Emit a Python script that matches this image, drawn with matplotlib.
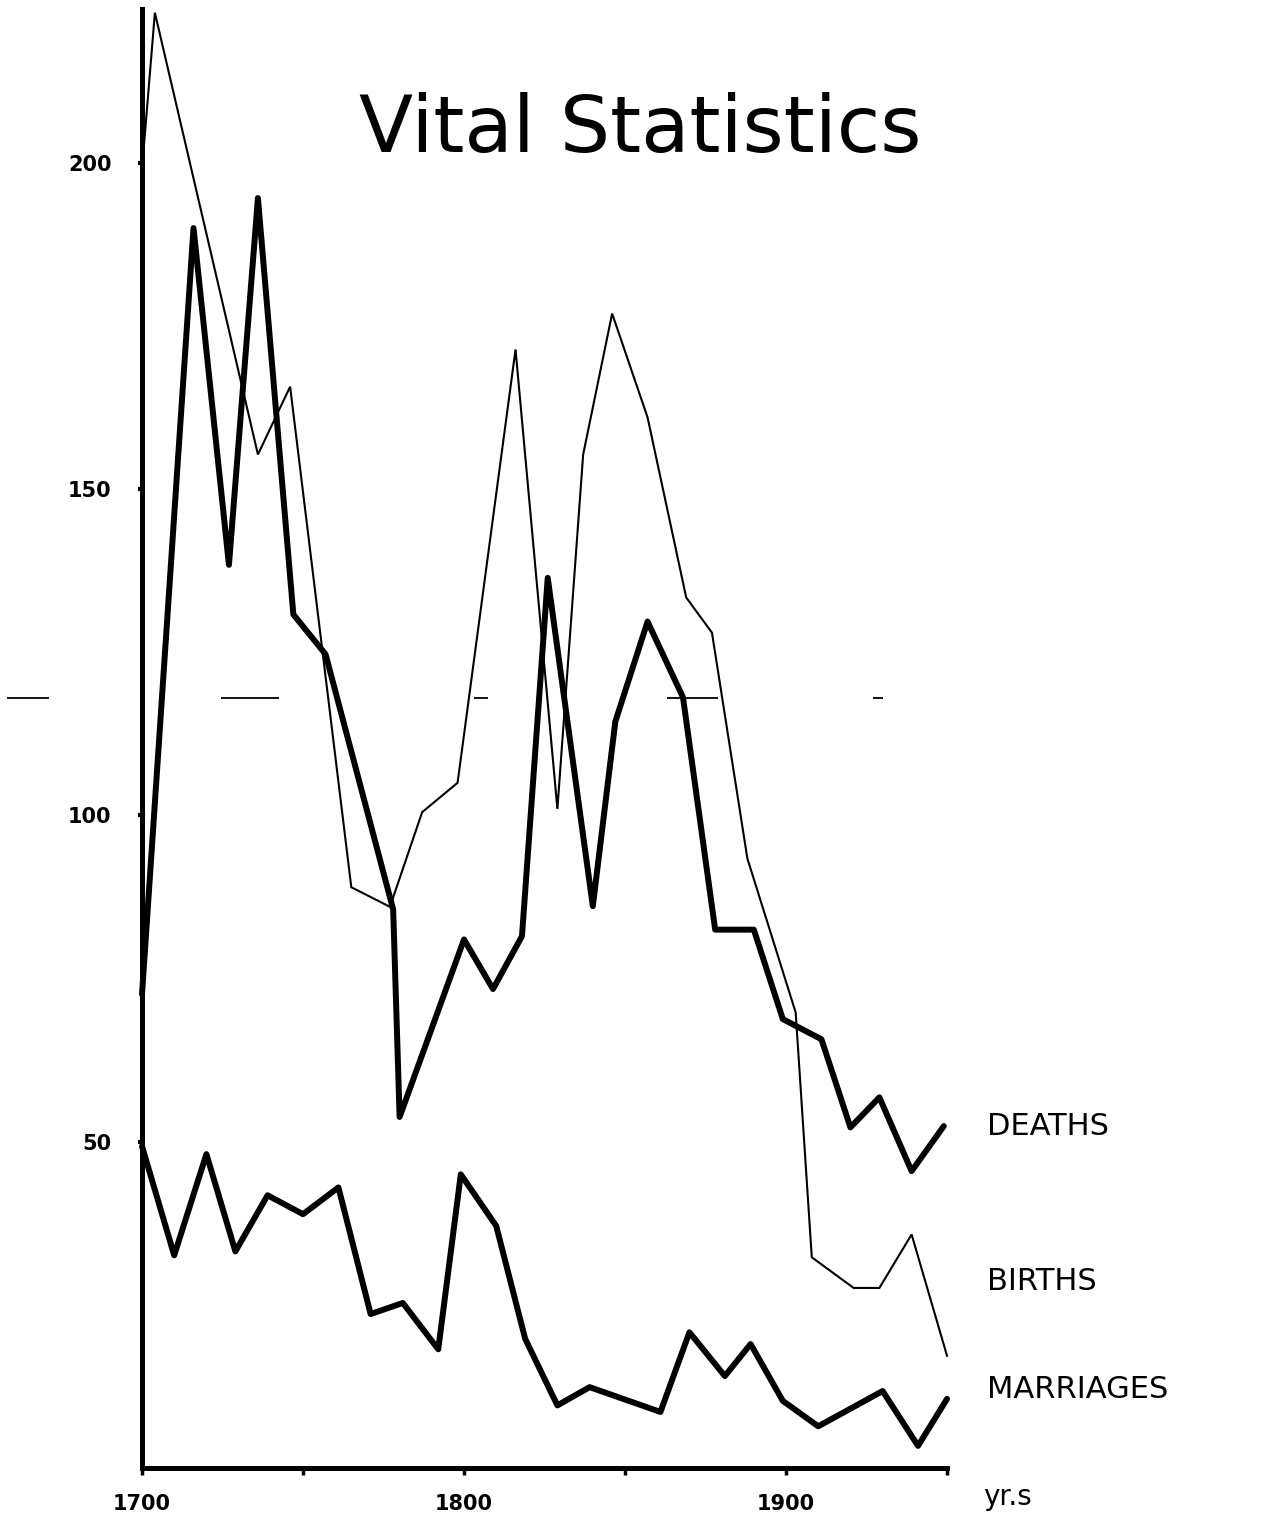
import matplotlib
matplotlib.use('Agg')
import matplotlib.pyplot as plt

# values
births_years = [1700, 1704, 1736, 1746, 1765, 1777, 1787, 1798, 1816, 1829, 1837, 1846,
                1857, 1869, 1877, 1888, 1903, 1908, 1921, 1929, 1939, 1950]
births = [199, 223, 155.3, 165.7, 89, 86, 100.5, 105, 171.4, 101, 155.3, 176.9,
          161, 133.4, 128, 93.4, 69.8, 32.3, 27.6, 27.6, 35.8, 17.2]

deaths_years = [1700, 1716, 1727, 1736, 1747, 1757, 1778, 1780, 1800, 1809, 1818, 1826,
                1840, 1847, 1857, 1868, 1878, 1890, 1899, 1911, 1920, 1929, 1939, 1949]
deaths = [72.6, 190, 138.4, 194.6, 130.8, 124.7, 85.6, 53.8, 81, 73.4, 81.5, 136.4,
          86.1, 114.4, 129.7, 118.1, 82.5, 82.5, 68.8, 65.7, 52.2, 56.8, 45.5, 52.4]

marriages_years = [1700, 1710, 1720, 1729, 1739, 1750, 1761, 1771, 1781, 1792, 1799, 1810,
                   1819, 1829, 1839, 1861, 1870, 1881, 1889, 1899, 1910, 1930, 1941, 1950]
marriages = [49.3, 32.6, 48.1, 33.2, 41.8, 38.9, 43, 23.6, 25.3, 18.2, 45, 37.1,
             19.8, 9.6, 12.4, 8.6, 20.8, 14.1, 19, 10.3, 6.4, 11.8, 3.4, 10.6]

# broken guide line that shows faintly across the scan
ref_level = 118
ref_starts = [1658, 1724.5, 1803, 1863, 1927]
ref_ends = [1671, 1742.5, 1807.5, 1879, 1930]

y_ticks = [50, 100, 150, 200]
x_ticks = [1700, 1750, 1800, 1850, 1900, 1950]
x_labels = ['1700', '', '1800', '', '1900', '']

series_names = ['DEATHS', 'BIRTHS', 'MARRIAGES']
name_levels = [52.4, 28.6, 12.1]

fig = plt.figure(figsize=(12.77, 15.21), dpi=100)
ax = fig.add_axes([0.1112, 0.0348, 0.6304, 0.959])

ax.plot(births_years, births, color='black', lw=1.5, solid_joinstyle='miter', clip_on=False)
ax.plot(deaths_years, deaths, color='black', lw=4.3, solid_joinstyle='round',
        solid_capstyle='round', clip_on=False)
ax.plot(marriages_years, marriages, color='black', lw=4.3, solid_joinstyle='round',
        solid_capstyle='round', clip_on=False)
ax.hlines([ref_level] * len(ref_starts), ref_starts, ref_ends, color='black', lw=1.3,
          clip_on=False)

ax.set_xlim(1700, 1950)
ax.set_ylim(0, 223.5)

for side in ['top', 'right']:
    ax.spines[side].set_visible(False)
ax.spines['left'].set_linewidth(3.6)
ax.spines['bottom'].set_linewidth(3.6)

ax.set_yticks(y_ticks)
ax.set_yticklabels([str(v) for v in y_ticks])
ax.set_xticks(x_ticks)
ax.set_xticklabels(x_labels)
ax.tick_params(axis='y', length=3, width=3, pad=19, labelsize=15)
ax.tick_params(axis='x', length=5, width=2.5, pad=14, labelsize=15)
for lab in ax.get_xticklabels() + ax.get_yticklabels():
    lab.set_fontweight('bold')
    lab.set_family('DejaVu Sans')

for name, lev in zip(series_names, name_levels):
    ax.text(1962.4, lev, name, fontsize=22, va='center', ha='left', clip_on=False)

fig.text(1008 / 1277, 1 - 1497 / 1521, 'yr.s', fontsize=20, ha='center', va='center')
fig.text(640 / 1277, 1 - 130 / 1521, 'Vital Statistics', fontsize=57, ha='center',
         va='center')

fig.savefig('out.png', dpi=100)
